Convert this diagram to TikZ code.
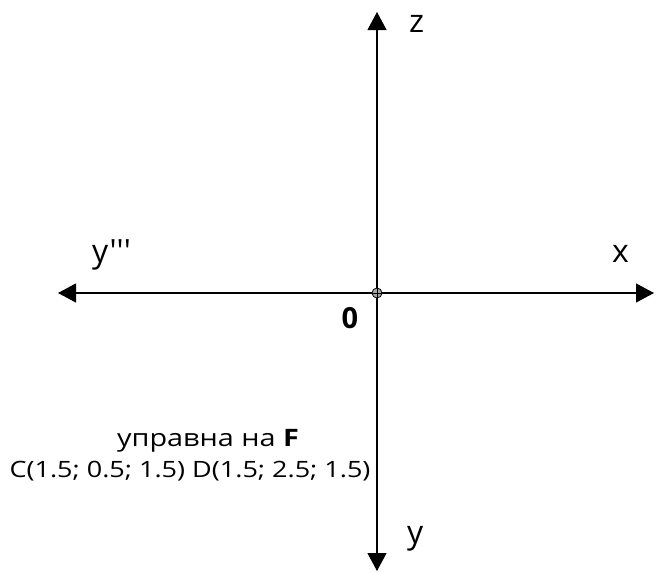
\documentclass[tikz,border=0pt]{standalone}
\usepackage{fontspec}
\setmainfont{Open Sans}
\newfontfamily\widefont[FakeStretch=1.2]{Open Sans}
\newfontfamily\plainfont{Open Sans}
\usetikzlibrary{arrows.meta}
\begin{document}
\begin{tikzpicture}[x=1pt,y=-1pt,
  axis/.style={line width=1.1pt,-{Triangle[length=18pt,width=19pt]}},
  lbl/.style={font=\plainfont\fontsize{32}{36}\selectfont,inner sep=0pt,anchor=base west}]
\useasboundingbox (0,0) rectangle (654,573);
\coordinate (O) at (377,293);
\coordinate (L) at (58,293);
\coordinate (R) at (654,293);
\coordinate (T) at (377,12);
\coordinate (B) at (377,571);
\draw[axis] (O) -- (L);
\draw[axis] (O) -- (R);
\draw[axis] (O) -- (T);
\draw[axis] (O) -- (B);
\node[draw,circle,fill=gray!70,line width=0.8pt,minimum size=10pt,inner sep=0pt] (oc) at (O) {};
\draw[line width=0.5pt] (oc.west) -- (oc.east) (oc.north) -- (oc.south);
\node[inner sep=0pt,font=\fontsize{29}{32}\selectfont\bfseries] (olab) at (350,318) {0};
\node[lbl] (zl) at (409,32) {z};
\node[lbl] (yl3) at (92,262) {y'''};
\node[lbl] (xl) at (612,262) {x};
\node[lbl] (yl) at (407,543) {y};
\node[inner sep=0pt,font=\widefont\fontsize{24}{26}\selectfont] (t1) at (208,441) {управна на \textbf{F}};
\node[inner sep=0pt,font=\widefont\fontsize{22.5}{26}\selectfont] (t2) at (190,471) {C(1.5; 0.5; 1.5) D(1.5; 2.5; 1.5)};
\end{tikzpicture}
\end{document}
